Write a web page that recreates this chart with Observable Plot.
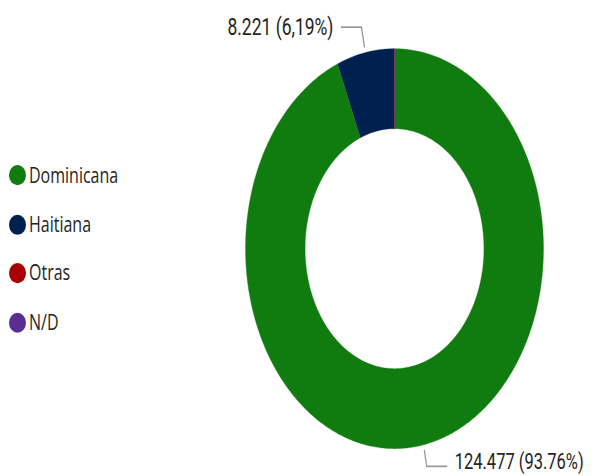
<!DOCTYPE html>
<html>
<head>
<meta charset="utf-8">
<script src="https://cdn.jsdelivr.net/npm/d3@7"></script>
<script src="https://cdn.jsdelivr.net/npm/@observablehq/plot@0.6"></script>
<style>
  html, body { margin: 0; background: #fff; }
  #outer { position: relative; width: 599px; height: 476px; overflow: visible; }
  #wrap { position: absolute; left: 0; top: 0; width: 599px; height: 355px; transform: scale(1, 1.342); transform-origin: 0 0; }
  #chart { position: absolute; left: 0; top: 0; }
  #chart svg { overflow: visible; }
  #legend { position: absolute; left: 9px; top: 123px; font-family: "Open Sans", sans-serif; font-size: 16px; color: #252423; }
  .item { height: 36.7px; display: flex; align-items: flex-start; }
  .sw { width: 17px; height: 15px; border-radius: 50%; margin-right: 3px; }
  .lb { line-height: 15px; }
</style>
</head>
<body>
<div id="outer"><div id="wrap"><div id="chart"></div><div id="legend"></div></div></div>
<script>
const categories = ["Dominicana", "Haitiana", "Otras", "N/D"];
const values = [124477, 8221, 45, 18];
const dataLabels = ["124.477 (93.76%)", "8.221 (6,19%)", "", ""];
const colors = ["#107C10", "#002050", "#A80000", "#5C2D91"];

const data = categories.map((c, i) => ({cat: c, value: values[i], label: dataLabels[i], color: colors[i]}));
const total = d3.sum(values);
const arcs = d3.pie().sort(null).value(d => d.value)(data);

const inner = 0.6, outer = 1;
const ring = [];
arcs.forEach(a => {
  const n = Math.max(2, Math.ceil((a.endAngle - a.startAngle) / 0.01));
  for (let k = 0; k <= n; k++) {
    const t = a.startAngle + (a.endAngle - a.startAngle) * k / n;
    ring.push({cat: a.data.cat, x: outer * Math.sin(t), y: -outer * Math.cos(t)});
  }
  for (let k = n; k >= 0; k--) {
    const t = a.startAngle + (a.endAngle - a.startAngle) * k / n;
    ring.push({cat: a.data.cat, x: inner * Math.sin(t), y: -inner * Math.cos(t)});
  }
});

const pxUnit = 2 / 298;
const leaders = [], labelPts = [];
arcs.filter(a => a.data.value / total > 0.01).forEach(a => {
  const m = (a.startAngle + a.endAngle) / 2;
  const side = Math.sin(m) >= 0 ? 1 : -1;
  const r2 = Math.cos(m) > 0 ? 1.13 : 1.11;
  const p1 = {x: 1.03 * Math.sin(m), y: -1.03 * Math.cos(m)};
  const p2 = {x: r2 * Math.sin(m), y: -r2 * Math.cos(m)};
  const p3 = {x: p2.x + side * 20 * pxUnit, y: p2.y};
  [p1, p2, p3].forEach(p => leaders.push({cat: a.data.cat, ...p}));
  labelPts.push({cat: a.data.cat, label: a.data.label, side, x: p3.x, y: p3.y});
});

const marks = categories.map((c, i) =>
  Plot.line(ring.filter(d => d.cat === c), {x: "x", y: "y", fill: colors[i], stroke: colors[i], strokeWidth: 0.3, curve: "linear"})
);
marks.push(Plot.line(leaders, {x: "x", y: "y", z: "cat", stroke: "#9a9a9a", strokeWidth: 1.3}));
marks.push(Plot.text(labelPts.filter(d => d.side < 0), {x: "x", y: "y", text: "label", textAnchor: "end", dx: -8, fill: "#252423", fontSize: 17.5, fontFamily: "Roboto, sans-serif"}));
marks.push(Plot.text(labelPts.filter(d => d.side > 0), {x: "x", y: "y", text: "label", textAnchor: "start", dx: 8, dy: -3, fill: "#252423", fontSize: 16.5, fontFamily: "Roboto, sans-serif"}));

const chart = Plot.plot({
  width: 599,
  height: 355,
  margin: 0,
  x: {domain: [-1, 1], range: [245, 543], axis: null},
  y: {domain: [-1, 1], range: [35.8, 333.8], axis: null},
  marks
});
document.getElementById("chart").appendChild(chart);

const legend = document.getElementById("legend");
categories.forEach((c, i) => {
  const it = document.createElement("div");
  it.className = "item";
  const sw = document.createElement("div");
  sw.className = "sw";
  sw.style.background = colors[i];
  const lb = document.createElement("span");
  lb.className = "lb";
  lb.textContent = c;
  it.appendChild(sw); it.appendChild(lb);
  legend.appendChild(it);
});
</script>
</body>
</html>
